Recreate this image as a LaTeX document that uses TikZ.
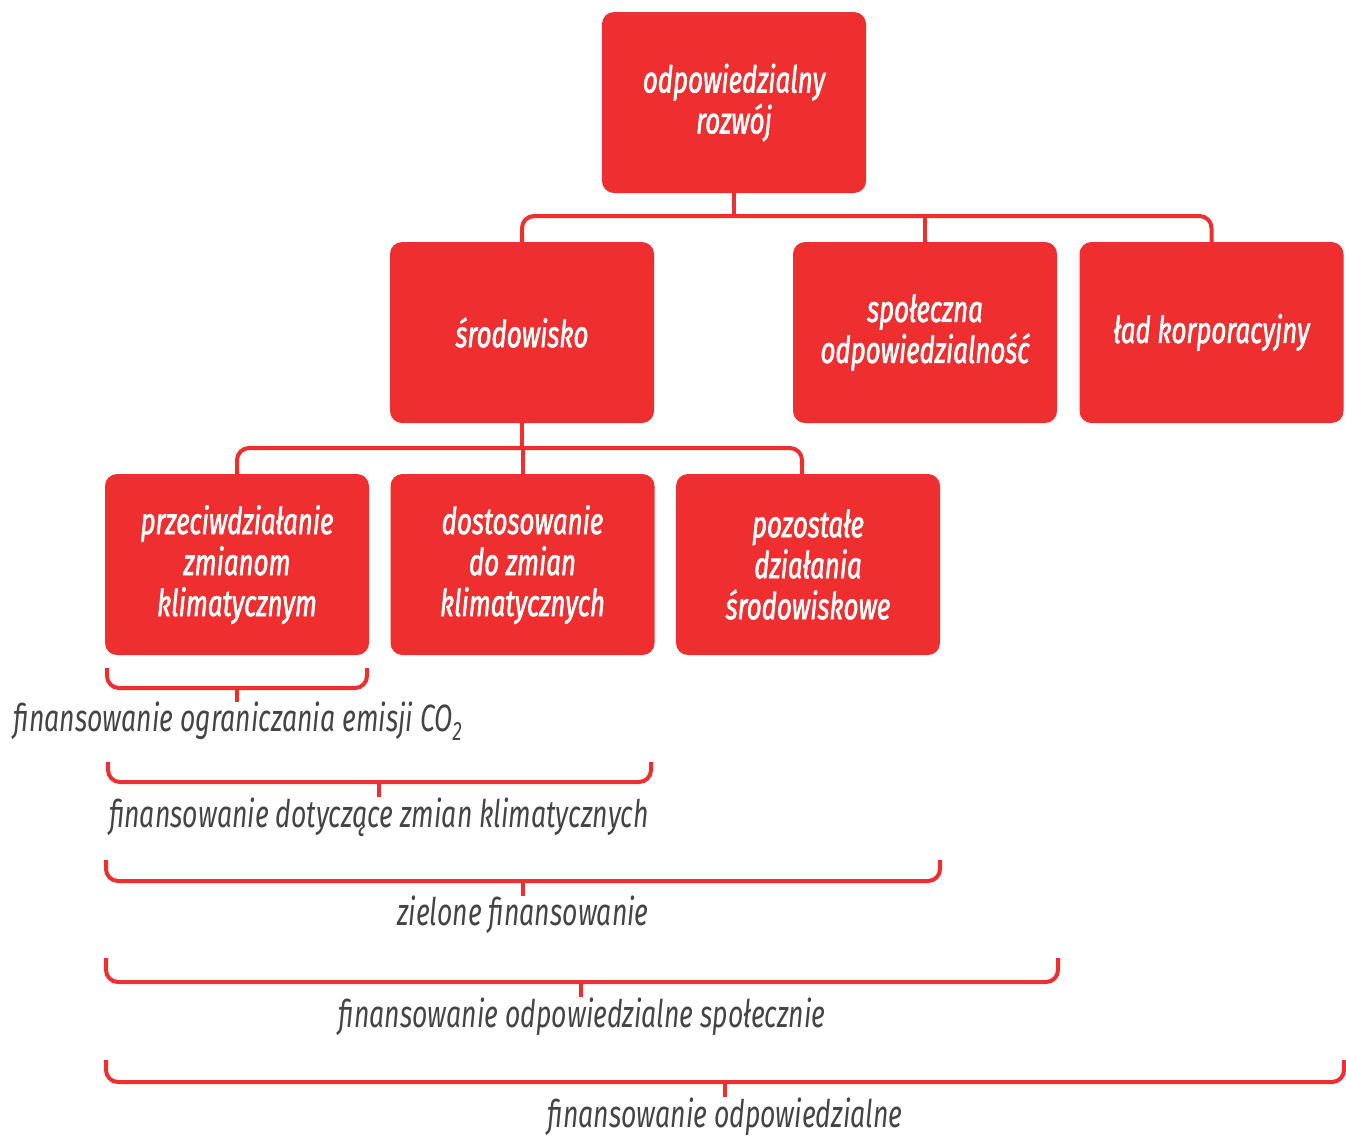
\documentclass[tikz,border=0pt]{standalone}
\usepackage{fontspec}
\newfontfamily\labfont[FakeStretch=0.70]{Fira Sans}
\newfontfamily\boxfont[FakeStretch=0.70,FakeBold=1.6]{Fira Sans}
\definecolor{rred}{HTML}{EE2E2F}
\definecolor{tgray}{HTML}{444444}
\begin{document}
\begin{tikzpicture}[x=1pt,y=-1pt,
  box/.style={draw=none,fill=rred,rounded corners=12pt,minimum width=264pt,minimum height=181pt,
    text=white,align=center,font=\boxfont\itshape\fontsize{37}{41}\selectfont,inner sep=0pt},
  conn/.style={draw=rred,line width=4pt,rounded corners=12pt},
  brk/.style={draw=rred,line width=4pt,rounded corners=12pt},
  lab/.style={text=tgray,font=\labfont\itshape\fontsize{38}{40}\selectfont,inner sep=0pt,anchor=base}]
\useasboundingbox (0,0) rectangle (1346,1136);
\node[box] (top) at (734,102.5) {odpowiedzialny\\rozwój};
\node[box] (sro) at (522,332.5) {środowisko};
\node[box] (spo) at (925,332.5) {społeczna\\odpowiedzialność};
\node[box] (lad) at (1211.5,332.5) {ład korporacyjny};
\node[box] (prz) at (237,564.5) {przeciwdziałanie\\zmianom\\klimatycznym};
\node[box] (dos) at (522.5,564.5) {dostosowanie\\do zmian\\klimatycznych};
\node[box] (poz) at (808,564.5) {pozostałe\\działania\\środowiskowe};
% connectors level 1
\coordinate (bus1) at (734,216);
\draw[conn] (top.south) -- (bus1);
\draw[conn] (sro.north) |- (bus1) -| (lad.north);
\draw[conn] (spo.north) -- (spo.north |- bus1);
% connectors level 2
\coordinate (bus2) at (522,448);
\coordinate (pozt) at (802,474);
\draw[conn] (sro.south) -- (bus2);
\draw[conn] (prz.north) |- (bus2) -| (pozt);
\draw[conn] (dos.north) -- (dos.north |- bus2);
% brackets
\draw[brk] (107,668) |- (237,688) -| (367,668);
\draw[brk,rounded corners=0pt] (237,688) -- (237,702);
\node[lab] (l1) at (238,731) {finansowanie ograniczania emisji CO\textsubscript{2}};
\draw[brk] (108,762) |- (379,782) -| (651,762);
\draw[brk,rounded corners=0pt] (379,782) -- (379,797);
\node[lab] (l2) at (379,827) {finansowanie dotyczące zmian klimatycznych};
\draw[brk] (106,860) |- (523,881) -| (940,860);
\draw[brk,rounded corners=0pt] (523,881) -- (523,896);
\node[lab] (l3) at (523,925) {zielone finansowanie};
\draw[brk] (106,958) |- (581,982) -| (1058,958);
\draw[brk,rounded corners=0pt] (581,982) -- (581,997);
\node[lab] (l4) at (582,1027) {finansowanie odpowiedzialne społecznie};
\draw[brk] (106,1060) |- (725,1082) -| (1344,1060);
\draw[brk,rounded corners=0pt] (725,1082) -- (725,1097);
\node[lab] (l5) at (725,1127) {finansowanie odpowiedzialne};
\end{tikzpicture}
\end{document}
